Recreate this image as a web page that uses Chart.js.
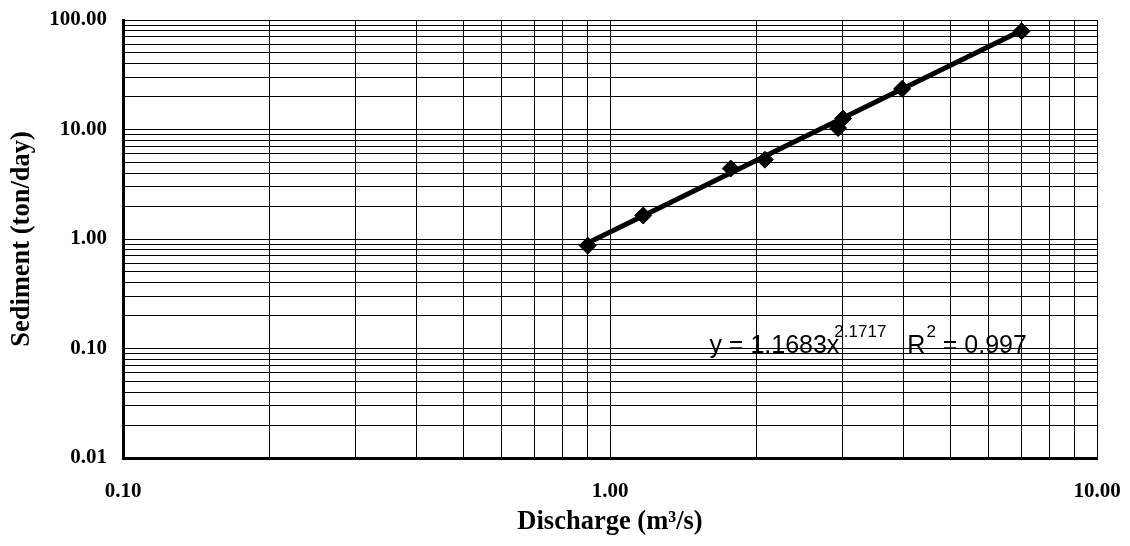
<!DOCTYPE html>
<html>
<head>
<meta charset="utf-8">
<script src="https://cdn.jsdelivr.net/npm/chart.js@4.4.0/dist/chart.umd.min.js"></script>
<style>
  body { margin: 0; background: #fff; }
</style>
</head>
<body>
<canvas id="sedimentRating" width="1130" height="546"></canvas>
<script>
// measured points, discharge (m3/s) vs sediment (ton/day)
const discharge = [0.90, 1.17, 1.77, 2.08, 2.94, 3.01, 3.98, 7.0];
const sediment = [0.87, 1.64, 4.4, 5.3, 10.3, 12.6, 23.5, 79];

// power trendline end points
const trendX = [0.9, 7.0];
const trendY = [0.92, 80];

// decade labels on the axes
const xMajor = [0.1, 1, 10];
const yMajor = [0.01, 0.1, 1, 10, 100];

const fitText = { pre: "y = 1.1683x", exp: "2.1717", r: "R", rExp: "2", post: " = 0.997" };
const fitAt = { x: 1.6, y: 0.091 };

// 1..9 gridlines inside each decade
function logGrid(majors) {
  const out = [];
  majors.forEach((m, i) => {
    if (i === majors.length - 1) {
      out.push(m);
      return;
    }
    for (let k = 1; k < 10; k++) out.push(m * k);
  });
  return out;
}

function isMajor(list, v) {
  return list.some((m) => Math.abs(Math.log10(v) - Math.log10(m)) < 1e-6);
}

const serif = "'Liberation Serif', 'Times New Roman', serif";
const sans = "'Liberation Sans', Arial, sans-serif";

const fitLabel = {
  id: "fitLabel",
  afterDatasetsDraw(chart) {
    const { ctx, scales } = chart;
    let px = scales.x.getPixelForValue(fitAt.x);
    const py = scales.y.getPixelForValue(fitAt.y);
    ctx.save();
    ctx.fillStyle = "#000";
    ctx.textBaseline = "alphabetic";
    const big = "25px " + sans;
    const small = "17px " + sans;
    ctx.font = big;
    ctx.fillText(fitText.pre, px, py);
    px += ctx.measureText(fitText.pre).width - 5;
    ctx.font = small;
    ctx.fillText(fitText.exp, px, py - 16);
    px += ctx.measureText(fitText.exp).width + 21;
    ctx.font = big;
    ctx.fillText(fitText.r, px, py);
    px += ctx.measureText(fitText.r).width + 1;
    ctx.font = small;
    ctx.fillText(fitText.rExp, px, py - 16);
    px += ctx.measureText(fitText.rExp).width;
    ctx.font = big;
    ctx.fillText(fitText.post, px, py);
    ctx.restore();
  },
};

new Chart(document.getElementById("sedimentRating"), {
  type: "scatter",
  data: {
    datasets: [
      {
        label: "trend",
        type: "line",
        data: trendX.map((x, i) => ({ x, y: trendY[i] })),
        borderColor: "#000",
        borderWidth: 5,
        pointRadius: 0,
        fill: false,
      },
      {
        label: "observed",
        data: discharge.map((x, i) => ({ x, y: sediment[i] })),
        pointStyle: "rectRot",
        pointRadius: 8.5,
        backgroundColor: "#000",
        borderColor: "#000",
        showLine: false,
      },
    ],
  },
  options: {
    responsive: false,
    animation: false,
    layout: { padding: { left: 0, top: 20, right: 33, bottom: 0 } },
    plugins: {
      legend: { display: false },
      tooltip: { enabled: false },
    },
    scales: {
      x: {
        type: "logarithmic",
        min: 0.1,
        max: 10,
        afterBuildTicks: (s) => {
          s.ticks = logGrid(xMajor).map((v) => ({ value: v }));
        },
        afterFit: (s) => {
          s.height = 88;
          s.paddingLeft = 0;
          s.paddingRight = 0;
        },
        grid: { color: "#000", lineWidth: 1, drawTicks: false },
        border: { color: "#000", width: 3 },
        ticks: {
          autoSkip: false,
          maxRotation: 0,
          padding: 21,
          color: "#000",
          font: { family: serif, size: 21, weight: "bold" },
          callback: (v) => (isMajor(xMajor, v) ? Number(v).toFixed(2) : ""),
        },
        title: {
          display: true,
          text: "Discharge (m³/s)",
          color: "#000",
          font: { family: serif, size: 26.5, weight: "bold" },
          padding: { top: 0, bottom: 8 },
        },
      },
      y: {
        type: "logarithmic",
        min: 0.01,
        max: 100,
        afterBuildTicks: (s) => {
          s.ticks = logGrid(yMajor).map((v) => ({ value: v }));
        },
        afterFit: (s) => {
          s.width = 123;
          s.paddingTop = 0;
          s.paddingBottom = 0;
        },
        grid: { color: "#000", lineWidth: 1, drawTicks: false },
        border: { color: "#000", width: 3 },
        ticks: {
          autoSkip: false,
          padding: 16,
          color: "#000",
          font: { family: serif, size: 21, weight: "bold" },
          callback: (v) => (isMajor(yMajor, v) ? Number(v).toFixed(2) : ""),
        },
        title: {
          display: true,
          text: "Sediment (ton/day)",
          color: "#000",
          font: { family: serif, size: 26.5, weight: "bold" },
          padding: { top: 6, bottom: 0 },
        },
      },
    },
  },
  plugins: [fitLabel],
});
</script>
</body>
</html>
